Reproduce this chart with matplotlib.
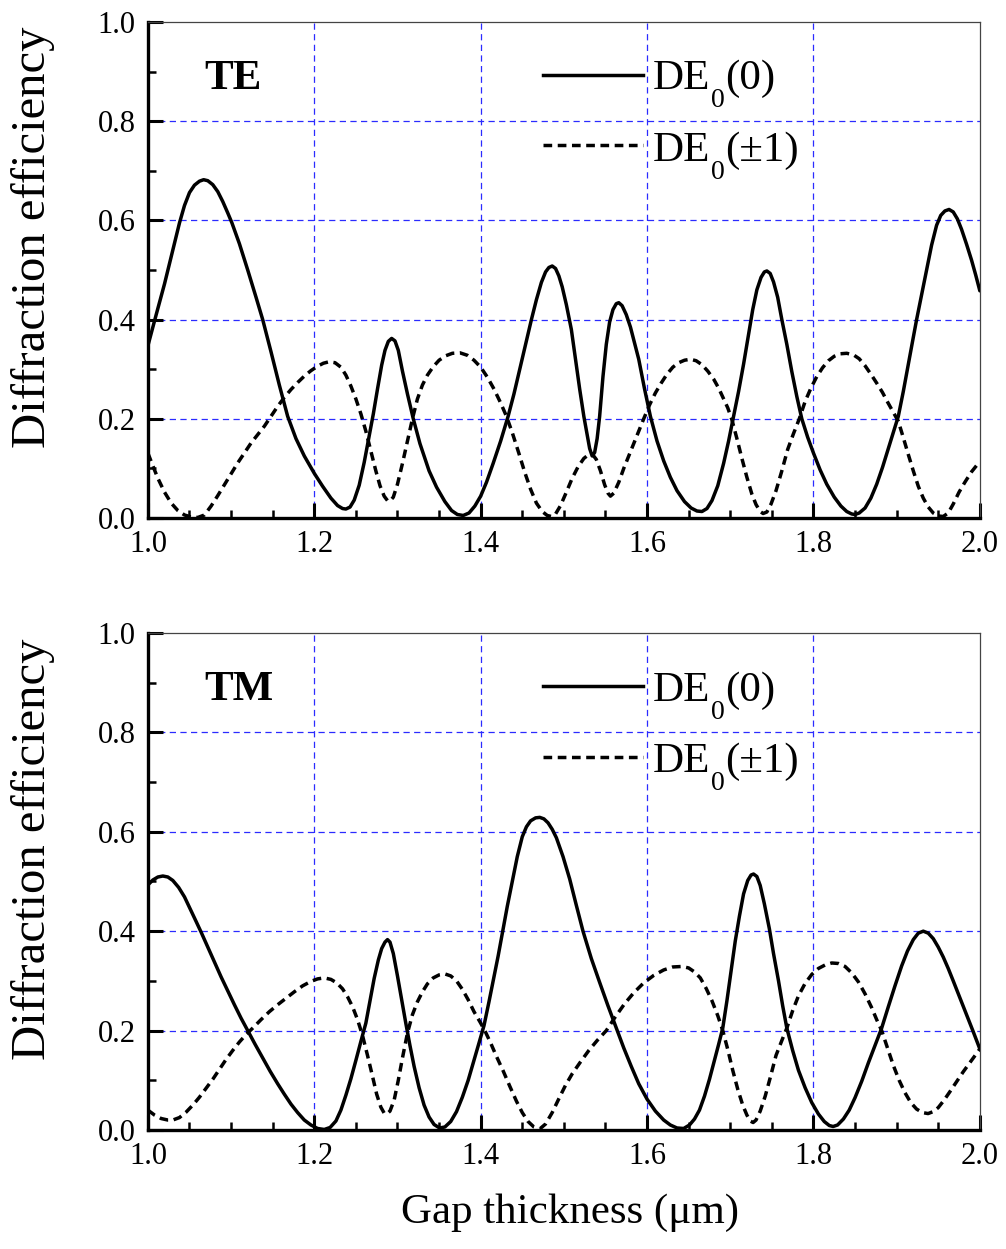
import numpy as np
import matplotlib
matplotlib.use('Agg')
import matplotlib.pyplot as plt
from matplotlib.ticker import MultipleLocator

plt.rcParams['font.family'] = ['Liberation Serif', 'DejaVu Serif']

# values (gap thickness in um, diffraction efficiency)
te_x0 = [1.000, 1.010, 1.020, 1.030, 1.038, 1.044, 1.050, 1.056, 1.062, 1.067,
         1.072, 1.078, 1.084, 1.090, 1.096, 1.101, 1.110, 1.120, 1.130, 1.138,
         1.148, 1.158, 1.168, 1.178, 1.188, 1.200, 1.210, 1.220, 1.228, 1.234,
         1.238, 1.243, 1.248, 1.254, 1.260, 1.266, 1.271, 1.276, 1.281, 1.285,
         1.289, 1.293, 1.297, 1.301, 1.306, 1.312, 1.319, 1.327, 1.338, 1.347,
         1.357, 1.365, 1.372, 1.379, 1.386, 1.393, 1.400, 1.407, 1.415, 1.424,
         1.433, 1.440, 1.447, 1.454, 1.461, 1.467, 1.473, 1.478, 1.482, 1.486,
         1.490, 1.494, 1.498, 1.503, 1.509, 1.514, 1.519, 1.524, 1.528, 1.531,
         1.534, 1.537, 1.540, 1.543, 1.547, 1.551, 1.555, 1.559, 1.563, 1.566,
         1.570, 1.575, 1.580, 1.590, 1.597, 1.604, 1.612, 1.620, 1.628, 1.636,
         1.645, 1.653, 1.660, 1.666, 1.672, 1.678, 1.685, 1.692, 1.698, 1.704,
         1.710, 1.716, 1.722, 1.727, 1.732, 1.737, 1.741, 1.744, 1.748, 1.752,
         1.757, 1.762, 1.768, 1.774, 1.780, 1.786, 1.793, 1.800, 1.808, 1.816,
         1.825, 1.833, 1.840, 1.846, 1.850, 1.855, 1.862, 1.869, 1.876, 1.883,
         1.890, 1.896, 1.902, 1.908, 1.914, 1.919, 1.924, 1.930, 1.936, 1.942,
         1.948, 1.953, 1.958, 1.963, 1.968, 1.973, 1.978, 1.984, 1.990, 1.995,
         2.000]
te_y0 = [0.347, 0.410, 0.472, 0.540, 0.595, 0.630, 0.656, 0.671, 0.679, 0.682,
         0.680, 0.672, 0.658, 0.638, 0.615, 0.595, 0.553, 0.500, 0.445, 0.400,
         0.335, 0.268, 0.205, 0.160, 0.125, 0.090, 0.064, 0.040, 0.025, 0.019,
         0.018, 0.022, 0.036, 0.066, 0.112, 0.165, 0.210, 0.260, 0.308, 0.338,
         0.356, 0.362, 0.357, 0.338, 0.296, 0.250, 0.200, 0.150, 0.095, 0.062,
         0.033, 0.015, 0.007, 0.005, 0.010, 0.024, 0.044, 0.072, 0.110, 0.155,
         0.205, 0.250, 0.300, 0.350, 0.400, 0.440, 0.475, 0.496, 0.505, 0.508,
         0.503, 0.488, 0.466, 0.430, 0.380, 0.320, 0.260, 0.205, 0.168, 0.140,
         0.125, 0.132, 0.160, 0.205, 0.285, 0.350, 0.395, 0.420, 0.432, 0.434,
         0.428, 0.410, 0.385, 0.320, 0.260, 0.205, 0.155, 0.115, 0.082, 0.055,
         0.033, 0.020, 0.014, 0.013, 0.019, 0.035, 0.065, 0.110, 0.155, 0.205,
         0.255, 0.310, 0.370, 0.420, 0.460, 0.485, 0.496, 0.498, 0.493, 0.476,
         0.445, 0.400, 0.350, 0.295, 0.245, 0.200, 0.163, 0.131, 0.097, 0.068,
         0.042, 0.024, 0.013, 0.008, 0.007, 0.010, 0.020, 0.040, 0.068, 0.102,
         0.140, 0.172, 0.205, 0.255, 0.310, 0.355, 0.400, 0.450, 0.500, 0.550,
         0.590, 0.610, 0.619, 0.622, 0.617, 0.603, 0.582, 0.552, 0.520, 0.490,
         0.458]

te_x1 = [1.000, 1.006, 1.012, 1.020, 1.028, 1.036, 1.044, 1.052, 1.060, 1.068,
         1.076, 1.084, 1.092, 1.100, 1.108, 1.116, 1.124, 1.132, 1.140, 1.148,
         1.156, 1.164, 1.172, 1.180, 1.188, 1.196, 1.204, 1.211, 1.218, 1.225,
         1.232, 1.238, 1.244, 1.250, 1.256, 1.262, 1.268, 1.274, 1.279, 1.284,
         1.288, 1.291, 1.295, 1.300, 1.306, 1.312, 1.318, 1.324, 1.330, 1.336,
         1.343, 1.350, 1.358, 1.366, 1.375, 1.384, 1.392, 1.400, 1.408, 1.416,
         1.424, 1.431, 1.438, 1.446, 1.453, 1.460, 1.467, 1.474, 1.480, 1.485,
         1.490, 1.496, 1.503, 1.510, 1.517, 1.524, 1.530, 1.5345, 1.539, 1.544,
         1.549, 1.553, 1.556, 1.560, 1.566, 1.572, 1.578, 1.584, 1.590, 1.596,
         1.603, 1.610, 1.617, 1.624, 1.631, 1.638, 1.645, 1.652, 1.659, 1.666,
         1.673, 1.680, 1.686, 1.692, 1.697, 1.702, 1.708, 1.714, 1.720, 1.726,
         1.731, 1.736, 1.7395, 1.744, 1.749, 1.755, 1.762, 1.769, 1.776, 1.783,
         1.790, 1.797, 1.804, 1.811, 1.818, 1.825, 1.832, 1.840, 1.848, 1.855,
         1.862, 1.869, 1.876, 1.883, 1.889, 1.895, 1.902, 1.908, 1.914, 1.920,
         1.926, 1.932, 1.938, 1.944, 1.950, 1.956, 1.962, 1.968, 1.975, 1.982,
         1.990, 2.000]
te_y1 = [0.131, 0.105, 0.080, 0.052, 0.030, 0.015, 0.006, 0.002, 0.001, 0.006,
         0.024, 0.045, 0.067, 0.089, 0.111, 0.131, 0.151, 0.168, 0.185, 0.205,
         0.225, 0.243, 0.259, 0.273, 0.286, 0.297, 0.306, 0.312, 0.315, 0.313,
         0.304, 0.288, 0.266, 0.240, 0.210, 0.175, 0.135, 0.095, 0.065, 0.044,
         0.035, 0.034, 0.042, 0.068, 0.110, 0.155, 0.200, 0.240, 0.268, 0.288,
         0.305, 0.318, 0.327, 0.332, 0.333, 0.328, 0.318, 0.304, 0.284, 0.260,
         0.232, 0.205, 0.172, 0.130, 0.092, 0.058, 0.030, 0.013, 0.005, 0.003,
         0.008, 0.025, 0.052, 0.080, 0.103, 0.120, 0.128, 0.128, 0.118, 0.095,
         0.067, 0.050, 0.044, 0.050, 0.072, 0.100, 0.125, 0.150, 0.175, 0.200,
         0.228, 0.252, 0.272, 0.290, 0.304, 0.313, 0.318, 0.320, 0.317, 0.309,
         0.296, 0.280, 0.262, 0.240, 0.222, 0.198, 0.160, 0.120, 0.082, 0.048,
         0.027, 0.013, 0.009, 0.012, 0.028, 0.055, 0.095, 0.138, 0.170, 0.200,
         0.235, 0.262, 0.285, 0.303, 0.317, 0.326, 0.331, 0.332, 0.329, 0.321,
         0.307, 0.290, 0.272, 0.253, 0.234, 0.216, 0.195, 0.162, 0.128, 0.095,
         0.064, 0.040, 0.022, 0.010, 0.004, 0.003, 0.010, 0.028, 0.052, 0.072,
         0.093, 0.114]

tm_x0 = [1.000, 1.006, 1.012, 1.018, 1.024, 1.030, 1.037, 1.044, 1.050, 1.057,
         1.064, 1.072, 1.080, 1.088, 1.096, 1.104, 1.112, 1.120, 1.129, 1.138,
         1.147, 1.156, 1.164, 1.172, 1.180, 1.188, 1.196, 1.204, 1.212, 1.219,
         1.226, 1.232, 1.238, 1.244, 1.250, 1.256, 1.262, 1.267, 1.272, 1.277,
         1.281, 1.285, 1.288, 1.291, 1.295, 1.300, 1.305, 1.310, 1.315, 1.320,
         1.326, 1.332, 1.338, 1.344, 1.3506, 1.357, 1.364, 1.371, 1.378, 1.385,
         1.392, 1.398, 1.404, 1.410, 1.416, 1.421, 1.426, 1.432, 1.438, 1.444,
         1.450, 1.455, 1.460, 1.466, 1.471, 1.476, 1.481, 1.486, 1.491, 1.499,
         1.507, 1.515, 1.523, 1.533, 1.543, 1.553, 1.563, 1.572, 1.581, 1.590,
         1.600, 1.610, 1.620, 1.628, 1.636, 1.644, 1.651, 1.657, 1.663, 1.669,
         1.675, 1.681, 1.686, 1.691, 1.696, 1.701, 1.706, 1.711, 1.716, 1.721,
         1.725, 1.728, 1.732, 1.736, 1.741, 1.747, 1.752, 1.758, 1.763, 1.768,
         1.775, 1.782, 1.790, 1.798, 1.806, 1.813, 1.819, 1.8236, 1.829, 1.836,
         1.843, 1.850, 1.858, 1.866, 1.874, 1.882, 1.890, 1.898, 1.906, 1.913,
         1.920, 1.926, 1.932, 1.938, 1.944, 1.950, 1.956, 1.962, 1.968, 1.976,
         1.984, 1.992, 2.000]
tm_y0 = [0.493, 0.503, 0.509, 0.511, 0.509, 0.502, 0.488, 0.469, 0.448, 0.423,
         0.398, 0.368, 0.338, 0.308, 0.280, 0.252, 0.225, 0.200, 0.172, 0.145,
         0.118, 0.093, 0.072, 0.052, 0.035, 0.020, 0.010, 0.003, 0.001, 0.005,
         0.018, 0.040, 0.070, 0.103, 0.140, 0.178, 0.215, 0.260, 0.305, 0.342,
         0.365, 0.378, 0.383, 0.378, 0.355, 0.310, 0.262, 0.215, 0.170, 0.128,
         0.085, 0.050, 0.026, 0.011, 0.004, 0.006, 0.017, 0.037, 0.066, 0.100,
         0.140, 0.175, 0.210, 0.258, 0.308, 0.350, 0.396, 0.450, 0.500, 0.550,
         0.590, 0.610, 0.622, 0.628, 0.629, 0.626, 0.618, 0.605, 0.588, 0.550,
         0.505, 0.452, 0.400, 0.345, 0.297, 0.250, 0.205, 0.165, 0.128, 0.093,
         0.062, 0.038, 0.020, 0.010, 0.004, 0.003, 0.010, 0.022, 0.040, 0.068,
         0.102, 0.140, 0.172, 0.205, 0.260, 0.320, 0.380, 0.430, 0.475, 0.502,
         0.513, 0.515, 0.510, 0.492, 0.455, 0.405, 0.355, 0.300, 0.250, 0.205,
         0.160, 0.120, 0.085, 0.055, 0.032, 0.017, 0.009, 0.007, 0.010, 0.022,
         0.040, 0.065, 0.098, 0.135, 0.170, 0.205, 0.248, 0.290, 0.330, 0.360,
         0.383, 0.396, 0.400, 0.396, 0.385, 0.368, 0.348, 0.325, 0.300, 0.266,
         0.232, 0.198, 0.163]

tm_x1 = [1.000, 1.008, 1.016, 1.024, 1.030, 1.038, 1.046, 1.054, 1.062, 1.070,
         1.078, 1.086, 1.094, 1.102, 1.110, 1.118, 1.126, 1.136, 1.146, 1.156,
         1.166, 1.176, 1.186, 1.196, 1.204, 1.212, 1.220, 1.227, 1.234, 1.240,
         1.246, 1.252, 1.258, 1.264, 1.270, 1.275, 1.280, 1.284, 1.287, 1.291,
         1.296, 1.301, 1.306, 1.312, 1.318, 1.324, 1.330, 1.336, 1.343, 1.350,
         1.357, 1.364, 1.371, 1.378, 1.385, 1.392, 1.399, 1.405, 1.412, 1.419,
         1.427, 1.435, 1.443, 1.450, 1.457, 1.464, 1.471, 1.478, 1.486, 1.494,
         1.502, 1.510, 1.520, 1.530, 1.540, 1.551, 1.562, 1.573, 1.584, 1.596,
         1.608, 1.620, 1.631, 1.642, 1.650, 1.657, 1.664, 1.671, 1.678, 1.685,
         1.691, 1.697, 1.703, 1.709, 1.715, 1.720, 1.724, 1.7275, 1.731, 1.736,
         1.742, 1.748, 1.755, 1.762, 1.768, 1.775, 1.782, 1.790, 1.798, 1.806,
         1.814, 1.822, 1.830, 1.838, 1.846, 1.854, 1.862, 1.870, 1.876, 1.882,
         1.889, 1.896, 1.903, 1.910, 1.917, 1.924, 1.931, 1.9378, 1.944, 1.950,
         1.957, 1.964, 1.972, 1.980, 1.990, 2.000]
tm_y1 = [0.040, 0.030, 0.023, 0.020, 0.020, 0.025, 0.036, 0.050, 0.066, 0.084,
         0.102, 0.122, 0.142, 0.160, 0.177, 0.192, 0.205, 0.222, 0.238, 0.252,
         0.265, 0.278, 0.290, 0.299, 0.304, 0.306, 0.303, 0.296, 0.284, 0.268,
         0.248, 0.222, 0.190, 0.150, 0.108, 0.072, 0.046, 0.034, 0.032, 0.038,
         0.060, 0.100, 0.145, 0.195, 0.232, 0.258, 0.278, 0.294, 0.306, 0.312,
         0.314, 0.310, 0.300, 0.283, 0.262, 0.238, 0.218, 0.200, 0.175, 0.148,
         0.119, 0.088, 0.058, 0.035, 0.017, 0.006, 0.002, 0.012, 0.035, 0.063,
         0.090, 0.113, 0.137, 0.160, 0.180, 0.200, 0.228, 0.254, 0.276, 0.296,
         0.311, 0.322, 0.328, 0.329, 0.326, 0.318, 0.306, 0.285, 0.260, 0.230,
         0.200, 0.162, 0.120, 0.082, 0.050, 0.030, 0.018, 0.015, 0.020, 0.038,
         0.068, 0.105, 0.150, 0.180, 0.205, 0.240, 0.270, 0.295, 0.313, 0.325,
         0.332, 0.336, 0.335, 0.329, 0.316, 0.298, 0.274, 0.246, 0.222, 0.200,
         0.165, 0.130, 0.100, 0.075, 0.055, 0.042, 0.035, 0.033, 0.037, 0.045,
         0.060, 0.077, 0.097, 0.117, 0.140, 0.163]

panels = ['TE', 'TM']
leg_names = ['(0)', '(\u00b11)']
grid_x = [1.2, 1.4, 1.6, 1.8]
grid_y = [0.2, 0.4, 0.6, 0.8]

fig = plt.figure(figsize=(10.06, 12.49), dpi=100)
ax_top = fig.add_axes([0.147, 0.5853, 0.827, 0.3971])
ax_bot = fig.add_axes([0.147, 0.0953, 0.827, 0.3979])

lw = 2.5
dash = (0, (2.5, 1.6))
grid_kw = dict(color='#2b2bff', lw=0.9, ls=(0, (5, 3.5)), zorder=1)


def legend_entry(ax, y_line, y_base, style, tail):
    # short sample line plus "DE" with a dropped subscript 0
    ax.plot([0.475, 0.595], [y_line, y_line], transform=ax.transAxes,
            color='black', lw=lw, ls=style)
    t = ax.text(0.607, y_base, 'DE', transform=ax.transAxes, fontsize=31,
                va='baseline', ha='left')
    sub = ax.annotate('0', xy=(1, y_base), xycoords=(t, 'axes fraction'),
                      xytext=(0.5, -13), textcoords='offset points',
                      fontsize=20, va='baseline', ha='left')
    ax.annotate(tail, xy=(1, y_base), xycoords=(sub, 'axes fraction'),
                xytext=(0.5, 0), textcoords='offset points',
                fontsize=31, va='baseline', ha='left')


for ax, name, xs0, ys0, xs1, ys1 in [(ax_top, panels[0], te_x0, te_y0, te_x1, te_y1),
                                     (ax_bot, panels[1], tm_x0, tm_y0, tm_x1, tm_y1)]:
    for gx in grid_x:
        ax.axvline(gx, **grid_kw)
    for gy in grid_y:
        ax.axhline(gy, **grid_kw)
    ax.plot(xs0, ys0, color='black', lw=lw, zorder=3,
            solid_joinstyle='round', solid_capstyle='round')
    ax.plot(xs1, ys1, color='black', lw=lw, ls=dash, zorder=3)

    ax.set_xlim(1.0, 2.0)
    ax.set_ylim(0.0, 1.0)
    ax.xaxis.set_major_locator(MultipleLocator(0.2))
    ax.xaxis.set_minor_locator(MultipleLocator(0.05))
    ax.yaxis.set_major_locator(MultipleLocator(0.2))
    ax.yaxis.set_minor_locator(MultipleLocator(0.1))
    ax.tick_params(which='major', direction='in', length=11, width=2.2,
                   labelsize=22, pad=9, top=False, right=False)
    ax.tick_params(which='minor', direction='in', length=6, width=1.8,
                   top=False, right=False)
    for side in ['left', 'bottom']:
        ax.spines[side].set_linewidth(2.4)
    for side in ['top', 'right']:
        ax.spines[side].set_linewidth(0.9)
        ax.spines[side].set_color('#444444')

    ax.set_ylabel('Diffraction efficiency', fontsize=35)
    ax.yaxis.set_label_coords(-0.112, 0.565)

    ax.text(0.068, 0.885, name, transform=ax.transAxes, fontsize=31,
            fontweight='bold', va='center', ha='left')

    legend_entry(ax, 0.893, 0.864, '-', leg_names[0])
    legend_entry(ax, 0.751, 0.720, dash, leg_names[1])

ax_bot.set_xlabel('Gap thickness (\u03bcm)', fontsize=31)
ax_bot.xaxis.set_label_coords(0.507, -0.128)

fig.savefig('out.png', dpi=100)
